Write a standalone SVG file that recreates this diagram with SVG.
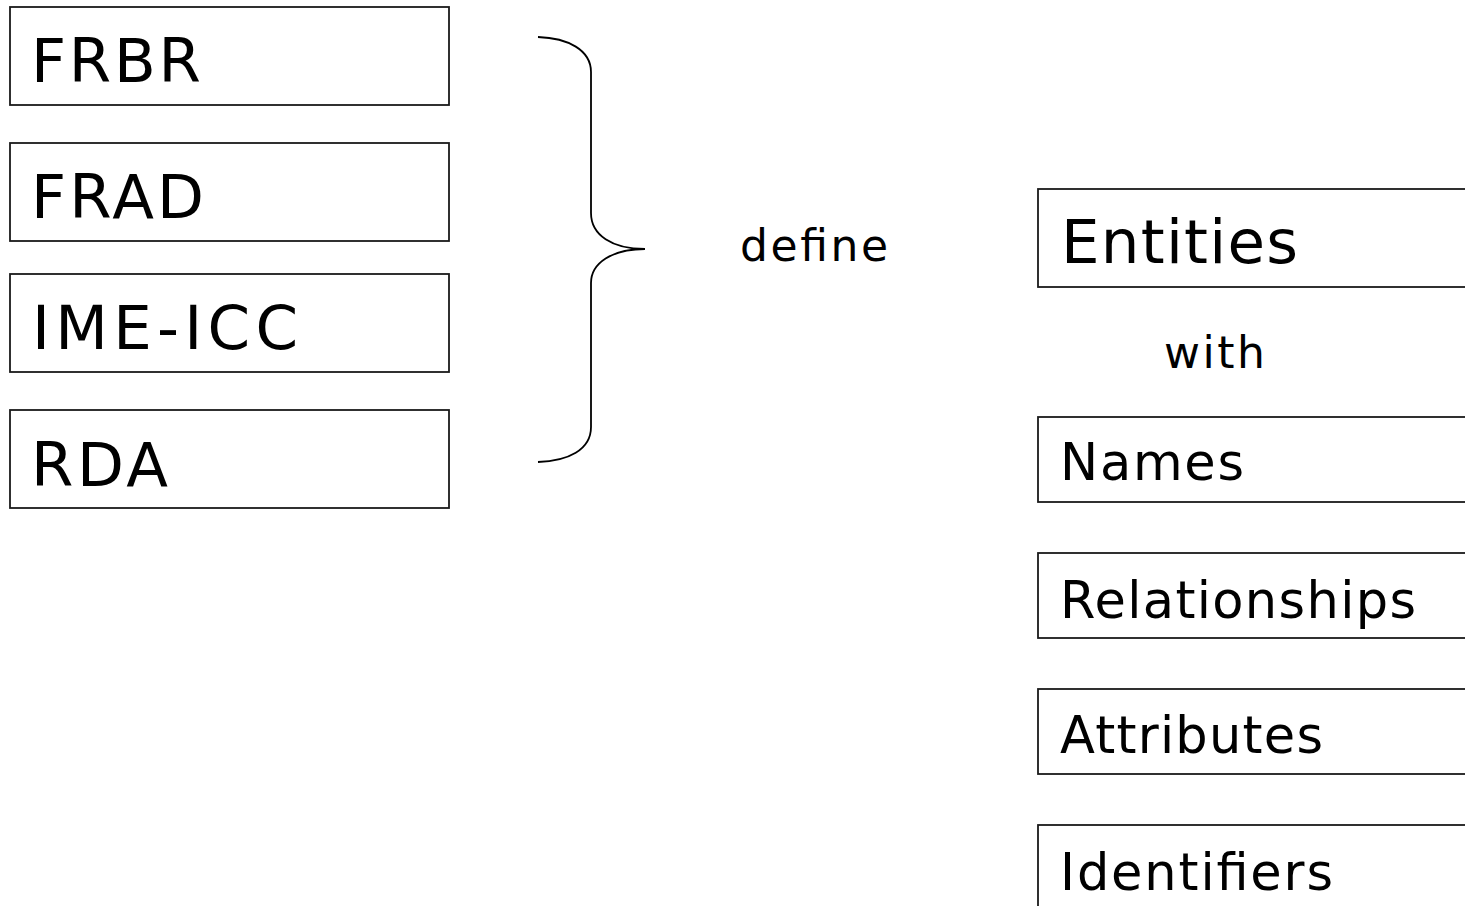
<svg xmlns="http://www.w3.org/2000/svg" width="1465" height="906" viewBox="0 0 1465 906">
<style>
.box{fill:#fff;stroke:#1a1a1a;stroke-width:1.8}
.t{font-family:"DejaVu Sans","Liberation Sans",sans-serif;fill:#000}
.big{font-size:61px}
.mid{font-size:51px}
.sm{font-size:44px}
.brace{fill:none;stroke:#000;stroke-width:1.8}
</style>
<rect width="1465" height="906" fill="#fff"/>
<g id="frbr"><rect class="box" x="10" y="7" width="439" height="98"/><text class="t big" x="31" y="82" textLength="170" lengthAdjust="spacing">FRBR</text></g>
<g id="frad"><rect class="box" x="10" y="143" width="439" height="98"/><text class="t big" x="31" y="218" textLength="173" lengthAdjust="spacing">FRAD</text></g>
<g id="ime-icc"><rect class="box" x="10" y="274" width="439" height="98"/><text class="t big" x="32" y="349" textLength="266" lengthAdjust="spacing">IME-ICC</text></g>
<g id="rda"><rect class="box" x="10" y="410" width="439" height="98"/><text class="t big" x="31" y="486" textLength="137" lengthAdjust="spacing">RDA</text></g>
<g id="connectors">
<path class="brace" d="M538,37 C568,38 591,50 591,72 L591,213 C591,235 612,249 645,249 C612,249 591,263 591,283 L591,427 C591,450 568,461 538,462"/>
</g>
<g id="define"><text class="t sm" x="740" y="261" textLength="148" lengthAdjust="spacing">define</text></g>
<g id="entities"><rect class="box" x="1038" y="189" width="440" height="98"/><text class="t big" x="1061" y="263" textLength="237" lengthAdjust="spacing">Entities</text></g>
<g id="with"><text class="t sm" x="1164" y="368" textLength="101" lengthAdjust="spacing">with</text></g>
<g id="names"><rect class="box" x="1038" y="417" width="440" height="85"/><text class="t mid" x="1060" y="480" textLength="184" lengthAdjust="spacing">Names</text></g>
<g id="relationships"><rect class="box" x="1038" y="553" width="440" height="85"/><text class="t mid" x="1060" y="618" textLength="356" lengthAdjust="spacing">Relationships</text></g>
<g id="attributes"><rect class="box" x="1038" y="689" width="440" height="85"/><text class="t mid" x="1060" y="753" textLength="263" lengthAdjust="spacing">Attributes</text></g>
<g id="identifiers"><rect class="box" x="1038" y="825" width="440" height="95"/><text class="t mid" x="1060" y="890" textLength="273" lengthAdjust="spacing">Identifiers</text></g>
</svg>
